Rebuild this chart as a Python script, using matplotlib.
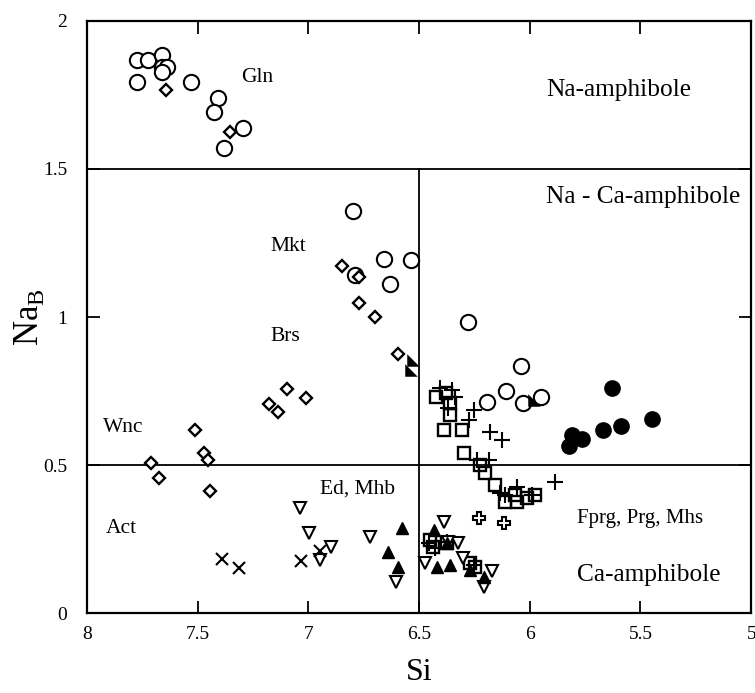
import matplotlib
matplotlib.use("Agg")
import matplotlib.pyplot as plt
import numpy as np

plt.rcParams['font.family'] = ['Liberation Serif', 'DejaVu Serif']
plt.rcParams['mathtext.fontset'] = 'custom'
plt.rcParams['mathtext.rm'] = 'Liberation Serif'

# --- data (Si, NaB) ---
open_circle_si = [7.774, 7.724, 7.661, 7.661, 7.636, 7.661, 7.774, 7.530, 7.406, 7.428, 7.297, 7.379,
                  6.796, 6.656, 6.538, 6.791, 6.630,
                  6.281, 6.038, 6.106, 6.191, 6.031, 5.948]
open_circle_na = [1.868, 1.868, 1.884, 1.845, 1.845, 1.828, 1.794, 1.794, 1.738, 1.693, 1.637, 1.571,
                  1.358, 1.197, 1.191, 1.142, 1.110,
                  0.984, 0.836, 0.750, 0.712, 0.711, 0.729]

diamond_si = [7.643, 7.353, 6.847, 6.770, 6.771, 6.698, 6.597,
              7.097, 7.011, 7.177, 7.138, 7.512, 7.470, 7.451, 7.711, 7.672, 7.443]
diamond_na = [1.768, 1.625, 1.172, 1.134, 1.047, 0.999, 0.875,
              0.756, 0.726, 0.706, 0.680, 0.619, 0.540, 0.519, 0.508, 0.458, 0.413]

half_tri_si = [6.525, 6.537, 5.983]
half_tri_na = [0.855, 0.821, 0.720]

filled_circle_si = [5.629, 5.448, 5.588, 5.671, 5.809, 5.764, 5.825]
filled_circle_na = [0.760, 0.657, 0.632, 0.619, 0.602, 0.587, 0.566]

square_si = [6.422, 6.377, 6.359, 6.362, 6.389, 6.306, 6.299, 6.224, 6.201, 6.156,
             6.111, 6.065, 6.058, 6.013, 5.975,
             6.449, 6.435, 6.374, 6.269, 6.246]
square_na = [0.731, 0.742, 0.709, 0.669, 0.619, 0.619, 0.540, 0.500, 0.472, 0.433,
             0.377, 0.399, 0.377, 0.388, 0.399,
             0.247, 0.225, 0.236, 0.169, 0.157]

plus_si = [6.404, 6.351, 6.337, 6.367, 6.254, 6.276, 6.178, 6.126, 6.238, 6.186,
           6.058, 5.990, 5.885, 6.111, 6.133,
           6.457, 6.427, 6.374, 6.254]
plus_na = [0.759, 0.754, 0.731, 0.692, 0.686, 0.652, 0.613, 0.585, 0.517, 0.517,
           0.427, 0.399, 0.444, 0.399, 0.406,
           0.236, 0.219, 0.240, 0.163]

open_plus_si = [6.231, 6.115]
open_plus_na = [0.321, 0.306]

tri_down_si = [7.037, 6.995, 6.897, 6.946, 6.720, 6.603,
               6.389, 6.322, 6.302, 6.472, 6.171, 6.206, 6.367]
tri_down_na = [0.354, 0.270, 0.225, 0.180, 0.256, 0.107,
               0.309, 0.238, 0.186, 0.169, 0.144, 0.088, 0.242]

tri_up_si = [6.577, 6.638, 6.595, 6.431, 6.374, 6.419, 6.362, 6.272, 6.206]
tri_up_na = [0.289, 0.208, 0.157, 0.281, 0.238, 0.157, 0.163, 0.146, 0.122]

cross_si = [7.390, 7.315, 7.033, 6.946]
cross_na = [0.182, 0.152, 0.178, 0.211]

x_ticks = [8, 7.5, 7, 6.5, 6, 5.5, 5]
x_tick_labels = ['8', '7.5', '7', '6.5', '6', '5.5', '5']
y_ticks = [0, 0.5, 1, 1.5, 2]
y_tick_labels = ['0', '0.5', '1', '1.5', '2']

fig = plt.figure(figsize=(7.55, 6.93), dpi=100)
ax = fig.add_axes([0.115, 0.115, 0.880, 0.855])

# field boundaries
ax.axhline(1.5, color='black', lw=1.3, zorder=1)
ax.axhline(0.5, color='black', lw=1.3, zorder=1)
ax.plot([6.5, 6.5], [0, 1.5], color='black', lw=1.3, zorder=1)

kw = dict(linestyle='none', color='black', zorder=3)
ax.plot(open_circle_si, open_circle_na, marker='o', ms=11, mfc='white', mew=1.5, **kw)
ax.plot(diamond_si, diamond_na, marker='D', ms=6, mfc='white', mew=1.7, **kw)
half_tri = [(-1, 1), (-1, -1), (1, -1), (-1, 1)]
ax.plot(half_tri_si, half_tri_na, marker=half_tri, ms=9, mfc='black', mew=0, **kw)
ax.plot(filled_circle_si, filled_circle_na, marker='o', ms=11, mfc='black', mew=1, **kw)
ax.plot(square_si, square_na, marker='s', ms=8, mfc='none', mew=1.7, **kw)
ax.plot(plus_si, plus_na, marker='+', ms=12, mew=1.5, **kw)
ax.plot(open_plus_si, open_plus_na, marker='P', ms=9, mfc='white', mew=1.5, **kw)
ax.plot(tri_down_si, tri_down_na, marker='v', ms=9, mfc='white', mew=1.5, **kw)
ax.plot(tri_up_si, tri_up_na, marker='^', ms=9, mfc='black', mew=1, **kw)
ax.plot(cross_si, cross_na, marker='x', ms=9, mew=1.5, **kw)

# field names
big = 18.3
mid = 15
small = 15.5
ax.text(5.925, 1.766, 'Na-amphibole', fontsize=big, va='center', ha='left')
ax.text(5.925, 1.406, 'Na - Ca-amphibole', fontsize=big, va='center', ha='left')
ax.text(5.787, 0.321, 'Fprg, Prg, Mhs', fontsize=mid, va='center', ha='left')
ax.text(5.787, 0.129, 'Ca-amphibole', fontsize=big, va='center', ha='left')
ax.text(7.231, 1.810, 'Gln', fontsize=small, va='center', ha='center')
ax.text(7.169, 1.237, 'Mkt', fontsize=small, va='center', ha='left')
ax.text(7.172, 0.936, 'Brs', fontsize=small, va='center', ha='left')
ax.text(7.928, 0.626, 'Wnc', fontsize=small, va='center', ha='left')
ax.text(7.913, 0.285, 'Act', fontsize=small, va='center', ha='left')
ax.text(6.949, 0.418, 'Ed, Mhb', fontsize=small, va='center', ha='left')

ax.set_xlim(8, 5)
ax.set_ylim(0, 2)
ax.set_xticks(x_ticks)
ax.set_xticklabels(x_tick_labels)
ax.set_yticks(y_ticks)
ax.set_yticklabels(y_tick_labels)
ax.tick_params(direction='in', length=9, width=1.3, top=True, right=True,
               labelsize=14)
ax.tick_params(axis='x', pad=9)
ax.tick_params(axis='y', pad=14)
for s in ax.spines.values():
    s.set_linewidth(1.6)

ax.set_xlabel('Si', fontsize=23, labelpad=11)
ax.set_ylabel(r'Na$_\mathrm{B}$', fontsize=25, labelpad=-2)

fig.savefig('out.png', dpi=100)
